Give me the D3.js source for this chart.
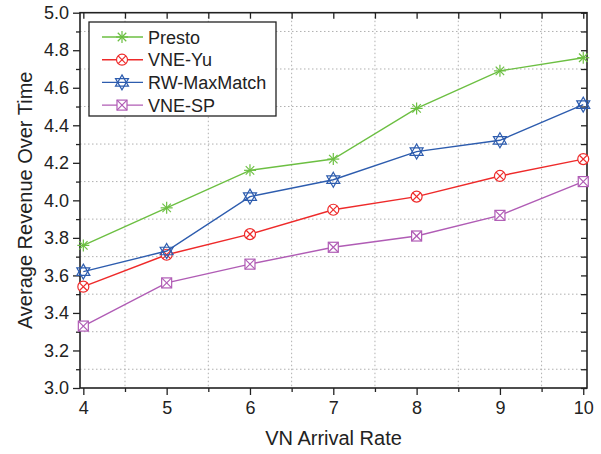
<!DOCTYPE html>
<html>
<head>
<meta charset="UTF-8">
<script src="https://d3js.org/d3.v7.min.js"></script>
<style>
  body { margin: 0; background: #fff; }
  svg { display: block; font-family: 'Liberation Sans', Arial, sans-serif; }
</style>
</head>
<body>
<svg id="chart" width="601" height="454"></svg>
<script>
// data
const rates = [4, 5, 6, 7, 8, 9, 10];
const presto = [3.76, 3.96, 4.16, 4.22, 4.49, 4.69, 4.76];
const vneYu = [3.54, 3.71, 3.82, 3.95, 4.02, 4.13, 4.22];
const rwMaxMatch = [3.62, 3.73, 4.02, 4.11, 4.26, 4.32, 4.51];
const vneSp = [3.33, 3.56, 3.66, 3.75, 3.81, 3.92, 4.10];
const seriesNames = ["Presto", "VNE-Yu", "RW-MaxMatch", "VNE-SP"];
const yTicks = [3.0, 3.2, 3.4, 3.6, 3.8, 4.0, 4.2, 4.4, 4.6, 4.8, 5.0];

const series = [
  { name: seriesNames[0], values: presto, color: "#6cbf42", marker: "asterisk" },
  { name: seriesNames[1], values: vneYu, color: "#ee2a2a", marker: "circlex" },
  { name: seriesNames[2], values: rwMaxMatch, color: "#2d5cae", marker: "hexagram" },
  { name: seriesNames[3], values: vneSp, color: "#b05cb5", marker: "squarex" }
];

const svg = d3.select("#chart");
const L = 80, R = 587, T = 12.7, B = 388;

const x = d3.scaleLinear().domain([3.96, 10.045]).range([L, R]);
const y = d3.scaleLinear().domain([3.0, 5.0]).range([B, T]);

const minorX = d3.range(4.5, 10, 1);
const minorY = d3.range(3.1, 5.0, 0.2);
const allY = d3.range(3.0, 5.001, 0.1);

// dotted grid
const grid = svg.append("g").attr("stroke", "#b0b0b0").attr("stroke-width", 1).attr("stroke-dasharray", "1.5,2.5");
grid.selectAll(".gx").data(minorX).enter().append("line")
  .attr("x1", d => x(d)).attr("x2", d => x(d)).attr("y1", T).attr("y2", B);
grid.selectAll(".gy").data(minorY).enter().append("line")
  .attr("x1", L).attr("x2", R).attr("y1", d => y(d)).attr("y2", d => y(d));

// axes
const bottom = svg.append("g").attr("transform", `translate(0,${B})`)
  .call(d3.axisBottom(x).tickValues(rates).tickFormat(d3.format("d")).tickSize(7).tickPadding(6));
svg.append("g").attr("transform", `translate(0,${B})`)
  .call(d3.axisBottom(x).tickValues(minorX).tickFormat("").tickSize(4));
const left = svg.append("g").attr("transform", `translate(${L},0)`)
  .call(d3.axisLeft(y).tickValues(yTicks).tickFormat(d3.format(".1f")).tickSize(7).tickPadding(4));
svg.append("g").attr("transform", `translate(${L},0)`)
  .call(d3.axisLeft(y).tickValues(minorY).tickFormat("").tickSize(4));
svg.append("g").attr("transform", `translate(${R},0)`)
  .call(d3.axisRight(y).tickValues(allY).tickFormat("").tickSize(-6));
svg.append("g").attr("transform", `translate(0,${T})`)
  .call(d3.axisTop(x).tickValues(rates.concat(minorX)).tickFormat("").tickSize(-6));

svg.selectAll(".domain").remove();
svg.selectAll(".tick line").attr("stroke", "#222").attr("stroke-width", 1.3);
svg.selectAll(".tick text").attr("font-size", 18).attr("fill", "#222")
  .attr("font-family", "'Liberation Sans', Arial, sans-serif");

svg.append("rect").attr("x", L).attr("y", T).attr("width", R - L).attr("height", B - T)
  .attr("fill", "none").attr("stroke", "#222").attr("stroke-width", 1.6);

// axis titles
svg.append("text").attr("x", (L + R) / 2).attr("y", 445).attr("text-anchor", "middle")
  .attr("font-size", 20).attr("fill", "#222").text("VN Arrival Rate");
svg.append("text").attr("transform", `translate(32,${(T + B) / 2}) rotate(-90)`)
  .attr("text-anchor", "middle").attr("font-size", 20).attr("fill", "#222")
  .text("Average Revenue Over Time");

// markers
function drawMarker(g, type, color) {
  g.attr("stroke", color).attr("fill", "none").attr("stroke-width", 1.2);
  if (type === "asterisk") {
    const r = 6;
    [0, 45, 90, 135].forEach(a => {
      const rad = a * Math.PI / 180;
      g.append("line").attr("x1", -r * Math.cos(rad)).attr("y1", -r * Math.sin(rad))
        .attr("x2", r * Math.cos(rad)).attr("y2", r * Math.sin(rad));
    });
  } else if (type === "circlex") {
    const r = 5.5, k = r * 0.7;
    g.append("circle").attr("r", r).attr("fill", "#fff");
    g.append("line").attr("x1", -k).attr("y1", -k).attr("x2", k).attr("y2", k);
    g.append("line").attr("x1", -k).attr("y1", k).attr("x2", k).attr("y2", -k);
  } else if (type === "hexagram") {
    const r = 7.5;
    const tri = a0 => d3.range(3).map(i => {
      const a = (a0 + i * 120) * Math.PI / 180;
      return [r * Math.cos(a), r * Math.sin(a)];
    });
    g.append("polygon").attr("points", tri(-90).join(" "));
    g.append("polygon").attr("points", tri(90).join(" "));
  } else if (type === "squarex") {
    const s = 5;
    g.append("rect").attr("x", -s).attr("y", -s).attr("width", 2 * s).attr("height", 2 * s).attr("fill", "#fff");
    g.append("line").attr("x1", -s).attr("y1", -s).attr("x2", s).attr("y2", s);
    g.append("line").attr("x1", -s).attr("y1", s).attr("x2", s).attr("y2", -s);
  }
}

const line = d3.line().x((d, i) => x(rates[i])).y(d => y(d));
series.forEach(s => {
  svg.append("path").datum(s.values).attr("d", line)
    .attr("fill", "none").attr("stroke", s.color).attr("stroke-width", 1.4);
  s.values.forEach((v, i) => {
    const g = svg.append("g").attr("transform", `translate(${x(rates[i])},${y(v)})`);
    drawMarker(g, s.marker, s.color);
  });
});

// legend
const lg = svg.append("g");
lg.append("rect").attr("x", 89).attr("y", 22).attr("width", 187).attr("height", 94)
  .attr("fill", "#fff").attr("stroke", "#222").attr("stroke-width", 1.3);
series.forEach((s, i) => {
  const cy = 37 + i * 22.7;
  lg.append("line").attr("x1", 102).attr("x2", 143).attr("y1", cy).attr("y2", cy)
    .attr("stroke", s.color).attr("stroke-width", 1.4);
  drawMarker(lg.append("g").attr("transform", `translate(122,${cy})`), s.marker, s.color);
  lg.append("text").attr("x", 148).attr("y", cy + 6.5).attr("font-size", 18).attr("fill", "#222").text(s.name);
});
</script>
</body>
</html>
